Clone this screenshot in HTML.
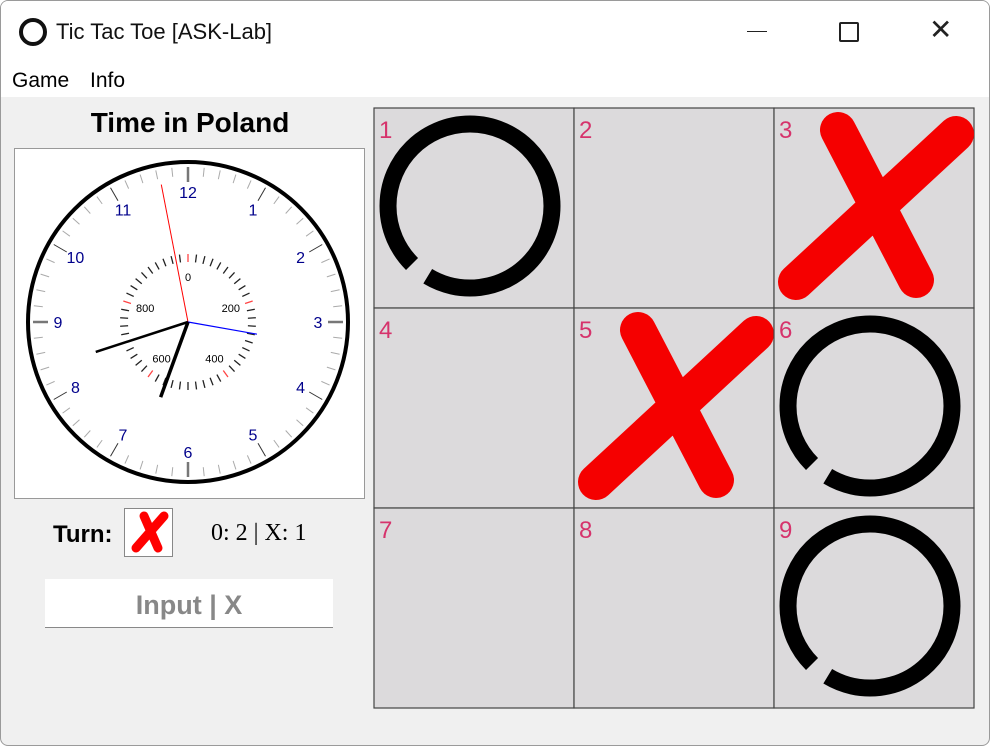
<!DOCTYPE html>
<html><head><meta charset="utf-8">
<style>
body{margin:0;width:990px;height:746px;overflow:hidden;background:#fff;font-family:"Liberation Sans",sans-serif;}
#win{position:absolute;left:0;top:0;width:988px;height:744px;border:1px solid #9a9a9a;border-radius:8px;background:#f0f0f0;overflow:hidden;}
#title{position:absolute;left:0;top:0;width:100%;height:60px;background:#fff;}
#menu{position:absolute;left:0;top:60px;width:100%;height:36px;background:#fff;}
.t{position:absolute;}
</style></head><body>
<div id="win">
 <div id="title">
  <svg class="t" style="left:16px;top:15px" width="32" height="32"><circle cx="16" cy="16" r="12" fill="none" stroke="#111" stroke-width="4"/></svg>
  <div class="t" style="left:55px;top:18px;font-size:22px;color:#111">Tic Tac Toe [ASK-Lab]</div>
  <div class="t" style="left:746px;top:30px;width:20px;height:1px;background:#222"></div>
  <div class="t" style="left:838px;top:21px;width:16px;height:16px;border:2px solid #222;border-radius:2px"></div>
  <div class="t" style="left:928px;top:14px;font-size:28px;color:#222;line-height:30px">✕</div>
 </div>
 <div id="menu">
  <div class="t" style="left:11px;top:8px;font-size:21px">Game</div>
  <div class="t" style="left:89px;top:8px;font-size:21px">Info</div>
 </div>
 <div class="t" style="left:14px;top:106px;width:350px;text-align:center;font-weight:bold;font-size:28px">Time in Poland</div>
 <svg class="t" id="clock" style="left:13px;top:147px" width="351" height="351"></svg>
 <div class="t" style="left:52px;top:520px;font-size:24px;font-weight:bold">Turn:</div>
 <svg class="t" style="left:123px;top:507px" width="50" height="50"><rect x="0.5" y="0.5" width="48" height="48" fill="#fff" stroke="#888"/><path d="M12 40 L40 8 M20 8 L34 40" stroke="#f00" stroke-width="9" stroke-linecap="round"/></svg>
 <div class="t" style="left:210px;top:519px;font-size:24px;font-family:'Liberation Serif',serif">0: 2 | X: 1</div>
 <div class="t" style="left:44px;top:578px;width:288px;height:48px;background:#fff;border-bottom:1px solid #888;text-align:center;line-height:52px;font-size:27px;font-weight:bold;color:#888">Input | X</div>
 <svg class="t" id="board" style="left:372px;top:106px" width="602" height="602"></svg>
</div>
<script>
const NS="http://www.w3.org/2000/svg";
const boardState=["O","","X","","X","O","","","O"];
const handAngles=[-11,100,-108,-160]; // degrees from 12 o'clock: second, blue, minute, hour
const handLens=[140,70,97,80];
const handColors=["#f00","#00f","#000","#000"];
const handWidths=[1,1.2,2.5,3.5];
function el(p,tag,a){const e=document.createElementNS(NS,tag);for(const k in a)e.setAttribute(k,a[k]);p.appendChild(e);return e;}
const c=document.getElementById('clock');
const r0=el(c,'rect',{x:0.5,y:0.5,width:350,height:350,fill:'#fff',stroke:'#999'});

const cx=174,cy=174;
for(let i=0;i<60;i++){const a=i*6*Math.PI/180,big=i%5==0;const r1=big?140:146,r2=155;
 const l=el(c,'line',{x1:cx+r1*Math.sin(a),y1:cy-r1*Math.cos(a),x2:cx+r2*Math.sin(a),y2:cy-r2*Math.cos(a),stroke:big?(i%15==0?'#777':'#333'):'#aaa','stroke-width':i%15==0?2.5:1});
 }
const face=el(c,'circle',{cx:cx,cy:cy,r:160,fill:'none',stroke:'#000','stroke-width':4});

for(let h=1;h<=12;h++){const a=h*30*Math.PI/180;const t=el(c,'text',{x:cx+130*Math.sin(a),y:cy-130*Math.cos(a)+6,'text-anchor':'middle','font-size':16,fill:'#00008b'});t.textContent=h;
 }
for(let i=0;i<50;i++){const a=i*7.2*Math.PI/180;const red=i%10==0;
 const l=el(c,'line',{x1:cx+60*Math.sin(a),y1:cy-60*Math.cos(a),x2:cx+68*Math.sin(a),y2:cy-68*Math.cos(a),stroke:red?'#f44':'#222','stroke-width':1.3});
 }
[0,200,400,600,800].forEach((v,i)=>{const a=i*72*Math.PI/180;const t=el(c,'text',{x:cx+45*Math.sin(a),y:cy-45*Math.cos(a)+4,'text-anchor':'middle','font-size':11,fill:'#000'});t.textContent=v;
 });
handAngles.forEach((d,i)=>{const a=d*Math.PI/180;const l=el(c,'line',{x1:cx,y1:cy,x2:cx+handLens[i]*Math.sin(a),y2:cy-handLens[i]*Math.cos(a),stroke:handColors[i],'stroke-width':handWidths[i]});
 });
const b=document.getElementById('board');
for(let i=0;i<9;i++){const x=1+(i%3)*200,y=1+Math.floor(i/3)*200;
 const g=el(b,'g',{});
 
 
 el(g,'rect',{x:x,y:y,width:200,height:200,fill:'#dcdadc',stroke:'#444','stroke-width':1.2});
 const t=el(g,'text',{x:x+5,y:y+30,'font-size':24,fill:'#d6336c'});t.textContent=i+1;
 if(boardState[i]=="O"){el(g,'circle',{cx:x+96,cy:y+98,r:82,fill:'none',stroke:'#000','stroke-width':17,'stroke-dasharray':'495 20','transform':'rotate(135 '+(x+96)+' '+(y+98)+')'});}
 if(boardState[i]=="X"){el(g,'path',{d:`M${x+22} ${y+174} L${x+182} ${y+26} M${x+64} ${y+22} L${x+142} ${y+172}`,stroke:'#f50000','stroke-width':36,'stroke-linecap':'round',fill:'none'});}
}
</script>
</body></html>
